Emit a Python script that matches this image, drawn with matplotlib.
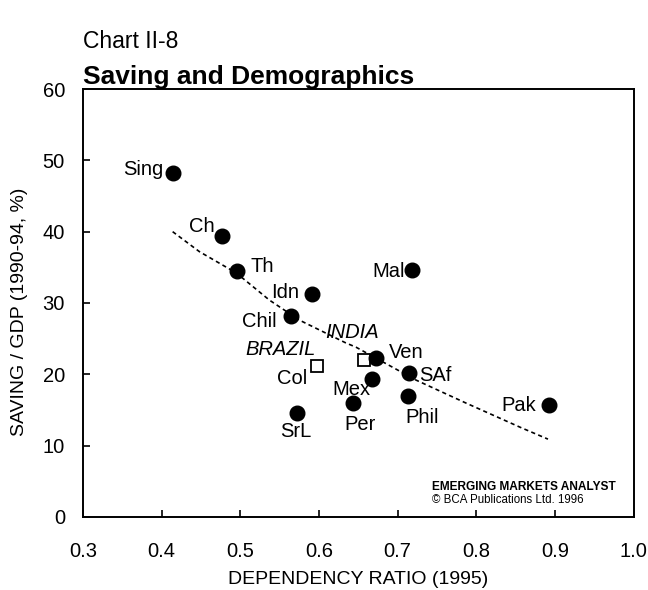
import matplotlib
matplotlib.use("Agg")
import matplotlib.pyplot as plt

plt.rcParams["font.family"] = ["Liberation Sans", "DejaVu Sans"]

# =========================================================================
#  Data
# =========================================================================
countries = ["Sing", "Ch", "Th", "Idn", "Chil", "Mal", "Ven", "Mex",
             "SAf", "Phil", "Per", "SrL", "Pak"]
dep_ratio = [0.414, 0.477, 0.496, 0.591, 0.565, 0.718, 0.673, 0.667,
             0.714, 0.713, 0.643, 0.572, 0.892]
saving = [48.2, 39.4, 34.5, 31.3, 28.2, 34.6, 22.3, 19.4,
          20.2, 17.0, 16.0, 14.6, 15.7]

# open squares
focus_names = ["BRAZIL", "INDIA"]
focus_x = [0.597, 0.657]
focus_y = [21.2, 22.0]

# fitted curve (dashed)
fit_x = [0.414, 0.448, 0.495, 0.537, 0.575, 0.634, 0.647, 0.723, 0.786, 0.857, 0.891]
fit_y = [40.0, 37.2, 34.2, 30.4, 27.6, 24.4, 23.8, 19.2, 16.0, 12.5, 10.9]

# label offsets in points (dx, baseline dy) relative to each marker
label_off = {
    "Sing": (-21, -1), "Ch": (-15, 3), "Th": (18, -1), "Idn": (-19, -3),
    "Chil": (-23, -8), "Mal": (-17, -5), "Ven": (21.5, 0), "Mex": (-14.5, -11.5),
    "SAf": (19, -6), "Phil": (10, -20), "Per": (5, -19.5), "SrL": (-1, -17.5),
    "Pak": (-21.5, -4.5),
}
focus_off = {"BRAZIL": (-26, 8), "INDIA": (-8.5, 16)}
col_off = (-18, -13)   # "Col" sits next to the Brazil square

# =========================================================================
#  Plot
# =========================================================================
fig = plt.figure(figsize=(6.48, 5.90), dpi=100)
ax = fig.add_axes([0.128, 0.124, 0.850, 0.725])

ax.plot(fit_x, fit_y, color="black", lw=1.2, ls=(0, (2.5, 2)), zorder=1)
ax.plot(dep_ratio, saving, "o", color="black", ms=10.5, zorder=3)
ax.plot(focus_x, focus_y, "s", mfc="white", mec="black", mew=1.3, ms=9, zorder=2)

for name, x, y in zip(countries, dep_ratio, saving):
    dx, dy = label_off[name]
    ax.annotate(name, (x, y), xytext=(dx, dy), textcoords="offset points",
                ha="center", va="baseline", fontsize=14.5)
for name, x, y in zip(focus_names, focus_x, focus_y):
    dx, dy = focus_off[name]
    ax.annotate(name, (x, y), xytext=(dx, dy), textcoords="offset points",
                ha="center", va="baseline", fontsize=14.5, style="italic")
ax.annotate("Col", (focus_x[0], focus_y[0]), xytext=col_off,
            textcoords="offset points", ha="center", va="baseline", fontsize=14.5)

ax.set_xlim(0.3, 1.0)
ax.set_ylim(0, 60)
ax.set_xticks([0.3, 0.4, 0.5, 0.6, 0.7, 0.8, 0.9, 1.0])
ax.set_xticklabels(["0.3", "0.4", "0.5", "0.6", "0.7", "0.8", "0.9", "1.0"])
ax.set_yticks(range(0, 61, 10))
ax.tick_params(direction="in", length=5, width=1.2, labelsize=14.5)
ax.tick_params(axis="x", pad=18)
ax.tick_params(axis="y", pad=13)
for s in ax.spines.values():
    s.set_linewidth(1.4)

ax.set_xlabel("DEPENDENCY RATIO (1995)", fontsize=14)
ax.xaxis.set_label_coords(0.5, -0.126)
ax.set_ylabel("SAVING / GDP (1990-94, %)", fontsize=14)
ax.yaxis.set_label_coords(-0.100, 0.48)

ax.text(0.633, 0.063, "EMERGING MARKETS ANALYST", transform=ax.transAxes,
        fontsize=8.6, fontweight="bold", va="baseline")
ax.text(0.633, 0.033, "\u00a9 BCA Publications Ltd. 1996", transform=ax.transAxes,
        fontsize=8.3, va="baseline")

fig.text(0.128, 0.9186, "Chart II-8", fontsize=16.5, va="baseline")
fig.text(0.128, 0.8576, "Saving and Demographics", fontsize=19,
         fontweight="bold", va="baseline")

fig.savefig("out.png", dpi=100)
